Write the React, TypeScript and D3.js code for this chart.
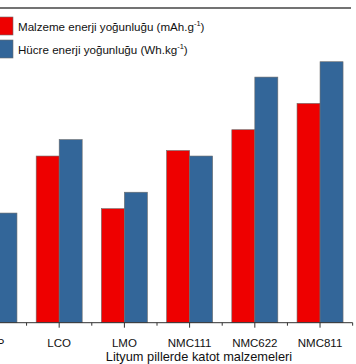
import React from "react";
import * as d3 from "d3";

const categories = ["LFP", "LCO", "LMO", "NMC111", "NMC622", "NMC811"];
const seriesNames = ["Malzeme enerji yoğunluğu (mAh.g", "Hücre enerji yoğunluğu (Wh.kg"];
const materialValues = [160, 152, 104, 157, 176, 200];
const cellValues = [100, 167, 119, 152, 224, 238];
const colors = ["#ee0000", "#336699"];

const W = 356;
const H = 364;

export default function App() {
  const x = d3.scaleBand<string>().domain(categories).range([-38.65, 352.65]).padding(0);
  const y = d3.scaleLinear().domain([0, 287]).range([322.7, 8]);
  const inner = d3.scaleBand<number>().domain([0, 1]).range([0, 46]);
  const series = [materialValues, cellValues];
  const bw = x.bandwidth();
  const baseY = y(0);

  return (
    <svg width={W} height={H} style={{ position: "absolute", left: 0, top: 0 }} fontFamily="'Liberation Sans', Arial, sans-serif">
      <rect x={0} y={0} width={W} height={H} fill="#fff" />
      {/* top frame line */}
      <line x1={0} x2={351} y1={y(287)} y2={y(287)} stroke="#444" strokeWidth={1.5} />
      {/* bars */}
      {categories.map((c, i) => {
        const cx = (x(c) as number) + bw / 2;
        return series.map((vals, s) => (
          <rect
            key={c + s}
            x={cx - 23 + (inner(s) as number)}
            y={y(vals[i])}
            width={inner.bandwidth()}
            height={baseY - y(vals[i])}
            fill={colors[s]}
            stroke="#6b6b6b"
            strokeWidth={0.6}
            opacity={i === 0 && s === 0 ? 0 : 1}
          />
        ));
      })}
      {/* bottom axis */}
      <line x1={0} x2={352.65} y1={baseY} y2={baseY} stroke="#333" strokeWidth={1} />
      {categories.map((c) => {
        const cx = (x(c) as number) + bw / 2;
        return <line key={"t" + c} x1={cx} x2={cx} y1={baseY} y2={baseY + 5} stroke="#333" strokeWidth={1} />;
      })}
      {categories.map((c) => {
        const bx = (x(c) as number) + bw;
        return <line key={"m" + c} x1={bx} x2={bx} y1={baseY} y2={baseY + 3} stroke="#333" strokeWidth={1} />;
      })}
      {categories.map((c) => {
        const cx = (x(c) as number) + bw / 2;
        return (
          <text key={"l" + c} x={cx} y={346.5} textAnchor="middle" fontSize={11.5} fill="#111">
            {c}
          </text>
        );
      })}
      <text x={199} y={360.5} textAnchor="middle" fontSize={12.8} fill="#111">
        Lityum pillerde katot malzemeleri
      </text>
      {/* legend */}
      {seriesNames.map((name, s) => (
        <g key={"lg" + s} transform={`translate(0, ${17 + s * 23})`}>
          <rect x={-5} y={0} width={18} height={18} fill={colors[s]} stroke="#6b6b6b" strokeWidth={0.6} />
          <text x={18} y={13.5} fontSize={11.6} fill="#111">
            {name}
            <tspan dy={-5} fontSize={7.5}>-1</tspan>
            <tspan dy={5}>)</tspan>
          </text>
        </g>
      ))}
    </svg>
  );
}
